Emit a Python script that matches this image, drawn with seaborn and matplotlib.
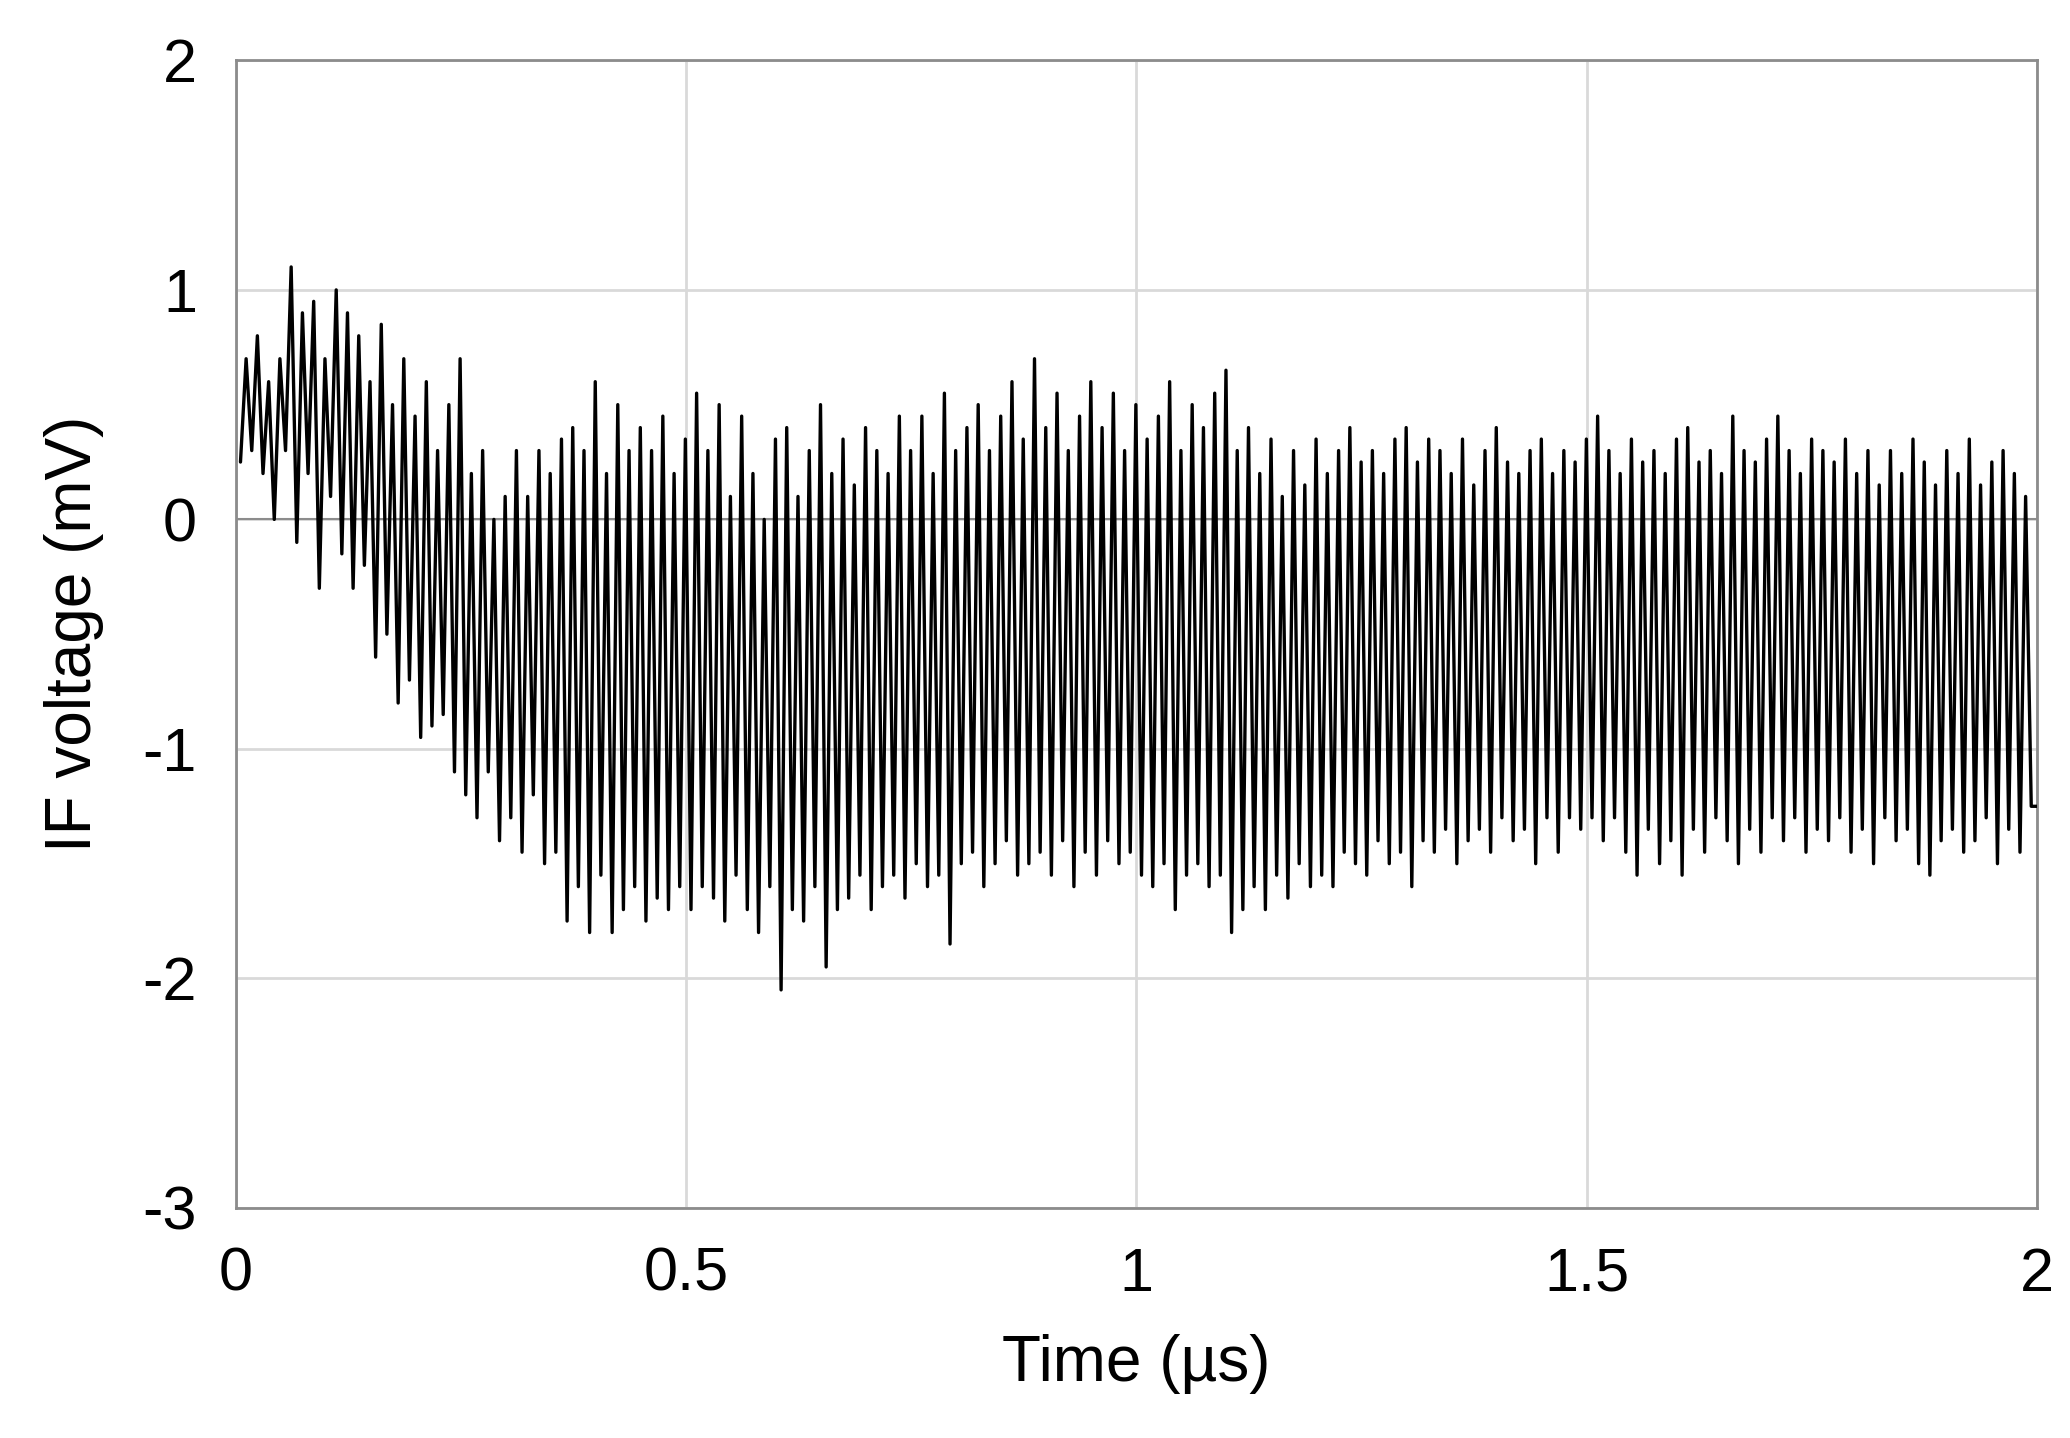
import numpy as np
import pandas as pd
import matplotlib
matplotlib.use("Agg")
import matplotlib.pyplot as plt
import seaborn as sns

# peak / trough values (mV), 20 per 0.25 us
peaks = [
    0.7, 0.8, 0.6, 0.7, 1.1, 0.9, 0.95, 0.7, 1.0, 0.9, 0.8, 0.6, 0.85, 0.5, 0.7, 0.45, 0.6, 0.3, 0.5, 0.7,
    0.2, 0.3, 0.0, 0.1, 0.3, 0.1, 0.3, 0.2, 0.35, 0.4, 0.3, 0.6, 0.2, 0.5, 0.3, 0.4, 0.3, 0.45, 0.2, 0.35,
    0.55, 0.3, 0.5, 0.1, 0.45, 0.2, 0.0, 0.35, 0.4, 0.1, 0.3, 0.5, 0.2, 0.35, 0.15, 0.4, 0.3, 0.2, 0.45, 0.3,
    0.45, 0.2, 0.55, 0.3, 0.4, 0.5, 0.3, 0.45, 0.6, 0.35, 0.7, 0.4, 0.55, 0.3, 0.45, 0.6, 0.4, 0.55, 0.3, 0.5,
    0.35, 0.45, 0.6, 0.3, 0.5, 0.4, 0.55, 0.65, 0.3, 0.4, 0.2, 0.35, 0.1, 0.3, 0.15, 0.35, 0.2, 0.3, 0.4, 0.25,
    0.3, 0.2, 0.35, 0.4, 0.25, 0.35, 0.3, 0.2, 0.35, 0.15, 0.3, 0.4, 0.25, 0.2, 0.3, 0.35, 0.2, 0.3, 0.25, 0.35,
    0.45, 0.3, 0.2, 0.35, 0.25, 0.3, 0.2, 0.35, 0.4, 0.25, 0.3, 0.2, 0.45, 0.3, 0.25, 0.35, 0.45, 0.3, 0.2, 0.35,
    0.3, 0.25, 0.35, 0.2, 0.3, 0.15, 0.3, 0.2, 0.35, 0.25, 0.15, 0.3, 0.2, 0.35, 0.15, 0.25, 0.3, 0.2, 0.1, -0.3,
]
troughs = [
    0.25, 0.3, 0.2, 0.0, 0.3, -0.1, 0.2, -0.3, 0.1, -0.15, -0.3, -0.2, -0.6, -0.5, -0.8, -0.7, -0.95, -0.9, -0.85, -1.1,
    -1.2, -1.3, -1.1, -1.4, -1.3, -1.45, -1.2, -1.5, -1.45, -1.75, -1.6, -1.8, -1.55, -1.8, -1.7, -1.6, -1.75, -1.65, -1.7, -1.6,
    -1.7, -1.6, -1.65, -1.75, -1.55, -1.7, -1.8, -1.6, -2.05, -1.7, -1.75, -1.6, -1.95, -1.7, -1.65, -1.55, -1.7, -1.6, -1.55, -1.65,
    -1.5, -1.6, -1.55, -1.85, -1.5, -1.45, -1.6, -1.5, -1.4, -1.55, -1.5, -1.45, -1.55, -1.4, -1.6, -1.45, -1.55, -1.4, -1.5, -1.45,
    -1.55, -1.6, -1.5, -1.7, -1.55, -1.5, -1.6, -1.55, -1.8, -1.7, -1.6, -1.7, -1.55, -1.65, -1.5, -1.6, -1.55, -1.6, -1.45, -1.5,
    -1.55, -1.4, -1.5, -1.45, -1.6, -1.4, -1.45, -1.35, -1.5, -1.4, -1.35, -1.45, -1.3, -1.4, -1.35, -1.5, -1.3, -1.45, -1.3, -1.35,
    -1.3, -1.4, -1.3, -1.45, -1.55, -1.35, -1.5, -1.4, -1.55, -1.35, -1.45, -1.3, -1.4, -1.5, -1.35, -1.45, -1.3, -1.4, -1.3, -1.45,
    -1.35, -1.4, -1.3, -1.45, -1.35, -1.5, -1.3, -1.4, -1.35, -1.5, -1.55, -1.4, -1.35, -1.45, -1.4, -1.3, -1.5, -1.35, -1.45, -1.25,
]
xticks = [0, 0.5, 1, 1.5, 2]
yticks = [-3, -2, -1, 0, 1, 2]

# interleave trough/peak samples, evenly spaced in time
voltage = np.ravel(np.column_stack([troughs, peaks]))
voltage[-1] = -1.25
time = np.linspace(0.005, 2.0, len(voltage))
df = pd.DataFrame({"time": time, "voltage": voltage})

sns.set_style("white")
plt.rcParams["font.family"] = ["Liberation Sans", "DejaVu Sans"]
plt.rcParams["axes.unicode_minus"] = False

fig = plt.figure(figsize=(20.7, 14.38), dpi=100)
ax = fig.add_axes([0.114, 0.16, 0.87, 0.798])
ax.grid(True, color="#d9d9d9", linewidth=2)
ax.axhline(0, color="#8c8c8c", linewidth=1.5, zorder=1)
sns.lineplot(data=df, x="time", y="voltage", color="black", linewidth=2.4, ax=ax, zorder=3)

ax.set_xlim(0, 2)
ax.set_ylim(-3, 2)
ax.set_xticks(xticks)
ax.set_xticklabels(["0", "0.5", "1", "1.5", "2"])
ax.set_yticks(yticks)
ax.tick_params(labelsize=44, length=0, pad=28, labelcolor="black")
ax.set_xlabel("Time (µs)", fontsize=46, labelpad=22, color="black")
ax.set_ylabel("IF voltage (mV)", fontsize=46, labelpad=28, color="black")
for s in ax.spines.values():
    s.set_color("#8c8c8c")
    s.set_linewidth(2)

fig.savefig("out.png", dpi=100)
